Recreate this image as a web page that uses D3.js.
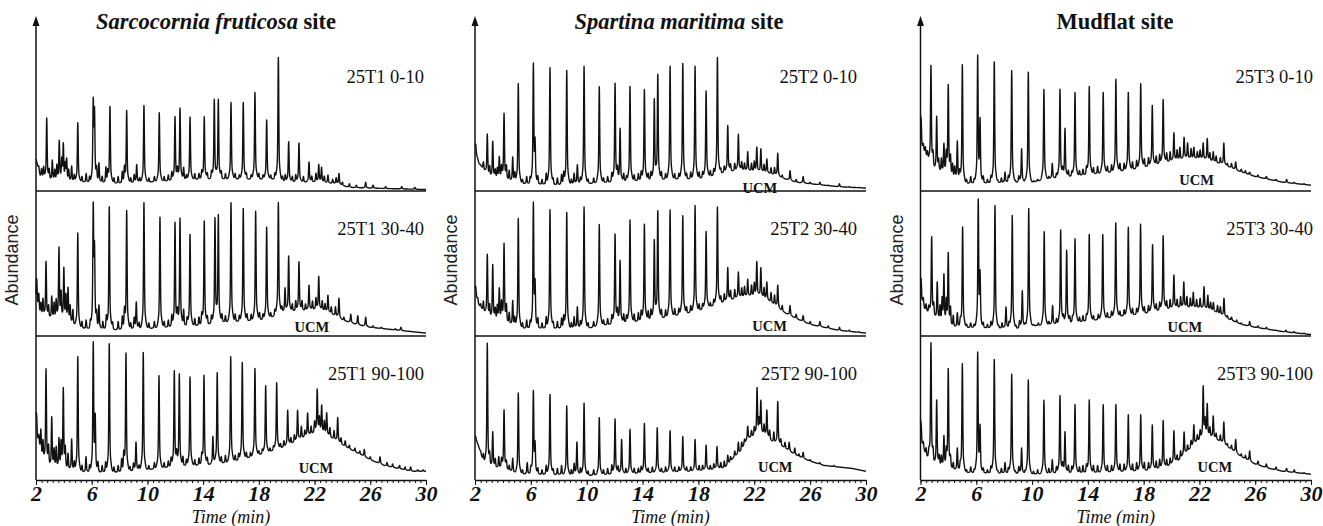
<!DOCTYPE html>
<html>
<head>
<meta charset="utf-8">
<script src="https://cdn.jsdelivr.net/npm/d3@7"></script>
<style>
  body { margin: 0; background: #fff; }
  svg { display: block; }
  .trace { fill: none; stroke: #111; stroke-width: 1.4; stroke-linejoin: round; }
  .rule { stroke: #111; stroke-width: 1.5; fill: none; }
  .serif { font-family: 'Liberation Serif', 'Times New Roman', Times, serif; fill: #111; }
</style>
</head>
<body>
<svg id="chart" width="1323" height="526"></svg>
<script>
// sites, samples and axis
const siteNames = ['Sarcocornia fruticosa', 'Spartina maritima', 'Mudflat']
const siteItalic = [true, true, false]
const sampleCodes = ['25T1', '25T2', '25T3']
const depths = ['0-10', '30-40', '90-100']
const xTicks = [2, 6, 10, 14, 18, 22, 26, 30]

// peaks: [time (min), apex abundance], baselines: [time, abundance] (0-100 = panel height)
const s1aPeaks = [[2.05,20],[2.2,17],[2.4,15],[2.55,16],[2.77,50],[2.95,14],[3.17,21],[3.35,14],[3.5,17],[3.67,34],[3.85,20],[3.96,31],[4.1,17],[4.2,21],[4.35,14],[4.56,17],[4.75,11],[5.0,47],[5.3,10],[5.6,12],[5.85,10],[6.11,59],[6.2,51],[6.35,14],[6.52,19],[6.75,10],[7.02,16],[7.15,12],[7.31,58],[7.6,9],[7.9,10],[8.2,13],[8.35,15],[8.51,55],[8.8,9],[9.05,11],[9.23,18],[9.45,9],[9.75,59],[10.1,9],[10.5,10],[10.85,54],[11.2,10],[11.5,11],[11.75,13],[11.98,51],[12.15,14],[12.34,57],[12.6,16],[12.8,11],[13.06,51],[13.4,12],[13.7,12],[13.9,13],[14.08,51],[14.3,12],[14.6,13],[14.8,63],[15.09,63],[15.3,13],[15.6,12],[16.0,61],[16.3,12],[16.6,11],[16.88,61],[17.1,12],[17.45,11],[17.72,68],[18.0,12],[18.3,11],[18.56,49],[18.85,11],[19.15,12],[19.4,92],[19.7,10],[19.9,11],[20.14,34],[20.4,10],[20.65,11],[20.88,33],[21.2,10],[21.6,20],[21.8,10],[22.1,12],[22.3,18],[22.5,16],[22.7,10],[22.96,11],[23.3,8],[23.55,9],[23.75,12],[24.0,6],[24.5,5],[25.0,4],[25.67,6],[26.2,4],[27.1,3],[28.25,3],[29.2,2.5]]
const s1aBase = [[2,22],[2.3,10],[2.6,8],[3,7],[5,6],[8,5],[10,6],[12,7],[14,8],[17,8],[19,8],[20,6],[22,6],[23.5,5],[24.5,2.5],[26,2],[28,1.5],[30,1]]

const s1bPeaks = [[2.05,39],[2.2,28],[2.35,22],[2.5,25],[2.72,51],[2.9,20],[3.13,27],[3.3,22],[3.45,24],[3.65,60],[3.8,28],[4.0,46],[4.15,26],[4.3,32],[4.45,20],[4.65,18],[5.0,71],[5.3,10],[5.6,11],[5.9,10],[6.11,86],[6.2,55],[6.35,14],[6.52,21],[6.8,10],[7.05,13],[7.26,89],[7.5,9],[7.9,10],[8.2,13],[8.35,16],[8.51,86],[8.8,9],[9.05,12],[9.2,23],[9.4,9],[9.75,92],[10.1,9],[10.5,10],[10.9,82],[11.2,10],[11.5,11],[11.75,14],[11.98,78],[12.15,15],[12.34,81],[12.6,18],[12.85,12],[13.06,70],[13.4,12],[13.7,13],[13.9,14],[14.08,79],[14.3,13],[14.6,14],[14.85,81],[15.09,83],[15.35,15],[15.6,14],[16.0,92],[16.3,15],[16.6,14],[16.88,88],[17.15,15],[17.45,15],[17.77,86],[18.05,16],[18.3,15],[18.56,75],[18.85,16],[19.15,18],[19.4,92],[19.65,20],[19.88,33],[20.14,55],[20.4,22],[20.65,24],[20.88,51],[21.1,24],[21.35,22],[21.6,35],[21.85,24],[22.1,26],[22.3,41],[22.55,24],[22.75,22],[22.96,28],[23.2,20],[23.5,20],[23.75,26],[24.1,13],[24.6,15],[25.1,14],[25.67,13],[26.2,7],[26.8,6],[27.3,4],[27.8,5],[28.2,6],[28.8,3],[29.5,2.5]]
const s1bBase = [[2,23],[2.3,14],[2.7,12],[3.5,11],[4.5,9],[5,5],[8,4],[10,5],[12,6],[14,7],[15,9],[17,10],[18.5,11],[19.7,16],[21,17],[22.3,18],[23,16],[24,11],[25,8],[26,6],[28,4],[30,2]]

const s1cPeaks = [[2.05,44],[2.2,30],[2.35,34],[2.5,26],[2.72,76],[2.9,22],[3.13,43],[3.3,20],[3.45,22],[3.65,28],[3.8,24],[3.96,62],[4.1,20],[4.3,18],[4.56,28],[4.75,12],[5.0,85],[5.3,10],[5.59,16],[5.85,10],[6.11,93],[6.25,40],[6.45,12],[6.75,10],[7.0,12],[7.26,94],[7.6,9],[7.9,10],[8.15,14],[8.3,16],[8.46,87],[8.75,9],[9.0,11],[9.18,26],[9.4,10],[9.7,88],[10.1,10],[10.5,12],[10.83,72],[11.2,12],[11.5,13],[11.7,15],[11.93,75],[12.1,17],[12.29,73],[12.55,16],[12.8,14],[13.06,71],[13.4,14],[13.7,15],[13.9,16],[14.06,72],[14.3,15],[14.7,30],[15.01,74],[15.3,16],[15.6,17],[15.98,85],[16.3,17],[16.55,18],[16.81,81],[17.1,19],[17.4,19],[17.72,77],[18.0,20],[18.25,21],[18.49,65],[18.8,22],[19.05,23],[19.28,67],[19.55,25],[19.8,27],[20.07,48],[20.3,29],[20.55,31],[20.78,48],[21.05,37],[21.3,34],[21.5,46],[21.75,37],[22.0,40],[22.19,62],[22.35,42],[22.51,51],[22.7,40],[22.87,46],[23.1,36],[23.4,34],[23.66,43],[23.9,29],[24.2,27],[24.5,24],[24.9,22],[25.25,20],[25.57,21],[26.0,16],[26.7,16],[27.2,12],[27.6,11],[28.1,10],[28.5,9],[28.9,9],[29.4,7],[29.8,7]]
const s1cBase = [[2,44],[2.1,28],[2.5,12],[3,8],[4,7],[5,5],[8,5],[10,7],[12,9],[14,10],[16,12],[18,17],[20,23],[21,28],[22.2,33],[23,30],[24,24],[25,19],[26,14],[27,10],[28,8],[29,6],[30,6]]

const s2aPeaks = [[2.05,32],[2.2,22],[2.4,18],[2.6,20],[2.88,39],[3.05,16],[3.27,34],[3.45,14],[3.6,15],[3.74,23],[3.9,16],[4.08,53],[4.25,16],[4.45,14],[4.7,23],[4.85,12],[5.1,74],[5.4,8],[5.7,10],[5.95,9],[6.18,86],[6.3,30],[6.5,10],[6.8,8],[7.1,12],[7.37,85],[7.6,8],[7.9,9],[8.2,11],[8.35,12],[8.57,83],[8.9,8],[9.1,12],[9.33,18],[9.55,9],[9.81,86],[10.1,8],[10.5,9],[10.9,72],[11.2,9],[11.5,10],[11.8,12],[12.03,74],[12.2,14],[12.39,43],[12.65,12],[12.85,10],[13.1,72],[13.4,11],[13.7,12],[13.9,13],[14.13,70],[14.4,12],[14.6,13],[14.84,63],[15.09,80],[15.35,13],[15.65,12],[15.97,86],[16.3,12],[16.6,12],[16.88,88],[17.15,12],[17.45,13],[17.76,86],[18.05,13],[18.3,13],[18.55,69],[18.85,14],[19.1,15],[19.36,92],[19.6,15],[19.85,17],[20.1,45],[20.3,18],[20.6,19],[20.86,39],[21.1,20],[21.3,19],[21.53,27],[21.8,19],[22.0,20],[22.18,30],[22.47,29],[22.7,18],[22.9,22],[23.2,16],[23.45,16],[23.68,26],[24.0,11],[24.56,14],[25.0,8],[25.5,10],[26.0,6],[26.7,6],[27.3,4],[28.1,5],[28.8,3],[29.5,2.5]]
const s2aBase = [[2,30],[2.2,20],[2.5,16],[3,9],[4,8],[5,5],[8,4],[10,5],[12,6],[14,7],[16,8],[18,8],[19,10],[20,13],[21,14],[22,13],[23,12],[24,9],[25,6],[26,5],[28,3],[30,2]]

const s2bPeaks = [[2.05,34],[2.2,26],[2.4,22],[2.6,24],[2.88,56],[3.05,20],[3.27,49],[3.45,18],[3.6,20],[3.74,32],[3.9,22],[4.08,63],[4.25,20],[4.45,16],[4.7,24],[4.85,12],[5.1,81],[5.4,9],[5.7,11],[5.95,10],[6.18,90],[6.3,32],[6.5,12],[6.8,9],[7.1,13],[7.37,87],[7.6,9],[7.9,10],[8.2,12],[8.35,13],[8.57,85],[8.9,9],[9.1,13],[9.33,20],[9.55,10],[9.81,89],[10.1,9],[10.5,10],[10.9,77],[11.2,11],[11.5,12],[11.8,14],[12.03,70],[12.2,16],[12.39,52],[12.65,15],[12.85,14],[13.1,80],[13.4,15],[13.7,16],[13.9,17],[14.13,77],[14.4,17],[14.6,18],[14.84,66],[15.09,86],[15.35,18],[15.65,18],[15.97,87],[16.3,19],[16.6,19],[16.88,83],[17.15,20],[17.45,21],[17.76,90],[18.05,22],[18.3,22],[18.55,72],[18.85,23],[19.1,25],[19.36,89],[19.6,27],[19.85,29],[20.1,47],[20.3,31],[20.6,32],[20.86,44],[21.1,33],[21.3,34],[21.53,39],[21.8,35],[22.0,36],[22.18,51],[22.47,47],[22.7,33],[22.9,37],[23.2,30],[23.45,28],[23.68,35],[24.0,21],[24.56,21],[25.0,15],[25.5,14],[26.0,10],[26.7,10],[27.3,7],[28.1,6],[28.8,4],[29.5,3]]
const s2bBase = [[2,32],[2.2,22],[2.5,18],[3,11],[4,10],[5,5],[8,5],[10,5],[11,7],[14,10],[16,13],[18,17],[19.5,22],[20.5,25],[21.5,27],[22.3,27],[23,24],[24,17],[25,12],[26,8],[27,6],[28,4],[30,2]]

const s2cPeaks = [[2.05,30],[2.2,24],[2.4,20],[2.6,18],[2.88,94],[3.05,16],[3.27,33],[3.45,14],[3.7,16],[3.9,14],[4.08,48],[4.25,12],[4.45,10],[4.7,15],[5.1,60],[5.4,7],[5.74,12],[6.0,8],[6.18,60],[6.3,22],[6.5,8],[6.8,7],[7.1,10],[7.37,59],[7.6,7],[7.9,8],[8.2,10],[8.57,51],[8.9,7],[9.1,11],[9.3,26],[9.55,8],[9.81,53],[10.1,6],[10.5,7],[10.9,43],[11.2,7],[11.5,8],[11.8,10],[12.03,42],[12.25,9],[12.5,28],[12.8,8],[13.1,35],[13.4,8],[13.7,8],[13.9,9],[14.13,39],[14.4,8],[14.7,9],[15.05,36],[15.35,8],[15.65,9],[15.97,34],[16.3,9],[16.6,9],[16.88,30],[17.15,9],[17.45,9],[17.76,28],[18.05,10],[18.3,10],[18.55,24],[18.85,10],[19.1,11],[19.33,23],[19.6,12],[19.85,13],[20.1,17],[20.3,16],[20.6,20],[20.86,26],[21.1,26],[21.3,28],[21.53,37],[21.8,34],[22.0,36],[22.2,63],[22.35,40],[22.47,54],[22.7,38],[22.9,48],[23.1,34],[23.4,33],[23.68,54],[23.9,28],[24.2,26],[24.5,26],[24.9,22],[25.2,18],[25.5,19],[26.0,14],[26.7,12],[27.2,10],[27.7,10],[28.0,9],[28.5,8],[29.0,8],[29.5,7]]
const s2cBase = [[2,30],[2.3,22],[2.6,12],[3,8],[4,8],[5,4],[10,3],[15,5],[18,6],[19,7],[19.9,8],[20.5,15],[21,19],[21.5,28],[22.2,31],[22.7,31],[23.3,26],[24,23],[25,17],[26,13],[27,10],[28,9],[29,8],[30,6]]

const s3aPeaks = [[2.05,49],[2.2,32],[2.35,30],[2.5,27],[2.75,86],[2.9,24],[3.16,51],[3.3,20],[3.5,22],[3.68,32],[3.85,24],[3.99,72],[4.15,22],[4.3,18],[4.45,16],[4.64,34],[4.8,12],[5.0,87],[5.3,8],[5.6,10],[5.85,8],[6.1,92],[6.27,47],[6.5,10],[6.8,8],[7.05,10],[7.29,89],[7.55,7],[7.8,9],[8.06,13],[8.3,10],[8.54,83],[8.8,7],[9.05,10],[9.25,29],[9.5,7],[9.73,82],[10.1,7],[10.4,8],[10.85,70],[11.2,10],[11.45,19],[11.75,12],[12.0,70],[12.2,14],[12.36,43],[12.6,14],[12.85,13],[13.08,68],[13.4,14],[13.65,15],[13.9,16],[14.1,72],[14.4,16],[14.7,17],[15.1,68],[15.4,17],[15.7,18],[16.01,77],[16.3,19],[16.6,19],[16.9,68],[17.2,20],[17.5,21],[17.79,74],[18.05,22],[18.35,23],[18.62,59],[18.9,24],[19.15,25],[19.4,63],[19.65,26],[19.9,27],[20.17,40],[20.4,28],[20.6,30],[20.9,37],[21.15,33],[21.4,29],[21.6,30],[21.85,27],[22.05,28],[22.27,33],[22.56,36],[22.75,26],[22.99,27],[23.2,24],[23.5,23],[23.75,33],[24.0,19],[24.3,19],[24.6,20],[25.0,15],[25.3,14],[25.6,13],[26.2,11],[26.8,10],[27.5,8],[28.25,8],[28.8,6],[29.5,5]]
const s3aBase = [[2,49],[2.1,30],[2.3,26],[2.6,20],[3,14],[4,11],[5,5],[10,6],[11,8],[13,10],[15,12],[17,14],[18.5,17],[20,20],[21,22],[22,22],[23,20],[24,17],[25,13],[26,10],[27,8],[28,6],[29,5],[30,4]]

const s3bPeaks = [[2.05,38],[2.2,26],[2.4,22],[2.6,20],[2.8,68],[2.95,20],[3.2,37],[3.4,20],[3.55,24],[3.68,41],[3.85,22],[3.99,56],[4.15,18],[4.35,14],[4.64,16],[4.85,10],[5.02,75],[5.3,8],[5.6,9],[5.85,8],[6.14,92],[6.27,39],[6.5,9],[6.8,8],[7.05,10],[7.34,90],[7.6,7],[7.85,9],[8.13,20],[8.35,9],[8.58,83],[8.85,7],[9.1,10],[9.3,31],[9.5,8],[9.76,88],[10.1,8],[10.45,9],[10.87,72],[11.2,10],[11.47,21],[11.75,12],[12.05,73],[12.25,13],[12.48,59],[12.7,13],[12.9,12],[13.08,67],[13.4,13],[13.65,14],[13.9,14],[14.1,70],[14.4,14],[14.75,15],[15.07,70],[15.4,16],[15.7,17],[16.0,78],[16.3,17],[16.6,18],[16.9,75],[17.2,19],[17.5,19],[17.78,77],[18.05,20],[18.35,21],[18.64,63],[18.9,22],[19.15,23],[19.4,69],[19.65,24],[19.9,25],[20.17,42],[20.4,25],[20.65,27],[20.88,37],[21.1,27],[21.35,26],[21.56,30],[21.8,25],[22.05,26],[22.33,34],[22.6,28],[22.8,23],[23.0,23],[23.3,21],[23.5,20],[23.76,26],[24.0,14],[24.3,13],[24.67,11],[25.0,9],[25.6,10],[26.2,7],[26.8,6],[27.5,4],[28.2,4],[28.8,3],[29.5,2]]
const s3bBase = [[2,38],[2.1,24],[2.3,18],[3,12],[4,6],[9,5],[10,7],[12,8],[14,10],[16,13],[18,15],[19.5,18],[20.5,19],[22,19],[23,17],[24,12],[25,8],[26,6],[28,3],[30,1]]

const s3cPeaks = [[2.05,38],[2.2,26],[2.4,22],[2.6,18],[2.75,94],[2.9,18],[3.16,55],[3.35,16],[3.5,16],[3.68,30],[3.85,18],[3.99,76],[4.15,14],[4.35,12],[4.64,22],[4.85,9],[5.0,80],[5.3,7],[5.6,9],[5.85,7],[6.1,87],[6.27,35],[6.5,8],[6.8,7],[7.05,9],[7.29,83],[7.55,6],[7.8,8],[8.06,12],[8.3,8],[8.54,73],[8.8,6],[9.05,9],[9.25,22],[9.5,6],[9.73,69],[10.1,6],[10.4,7],[10.85,55],[11.2,8],[11.45,14],[11.75,9],[12.0,58],[12.2,10],[12.36,33],[12.6,10],[12.85,9],[13.08,52],[13.4,9],[13.65,10],[13.9,10],[14.1,55],[14.4,10],[14.7,10],[15.1,52],[15.4,10],[15.7,10],[16.01,52],[16.3,11],[16.6,11],[16.9,45],[17.2,11],[17.5,12],[17.79,45],[18.05,12],[18.35,12],[18.62,38],[18.9,13],[19.15,14],[19.4,41],[19.65,14],[19.9,15],[20.17,34],[20.4,17],[20.65,20],[20.9,33],[21.15,24],[21.4,27],[21.6,38],[21.85,31],[22.05,34],[22.27,64],[22.4,40],[22.56,52],[22.75,36],[22.99,44],[23.2,32],[23.5,31],[23.75,40],[24.0,25],[24.3,24],[24.6,28],[25.0,18],[25.3,17],[25.6,20],[26.2,13],[26.8,11],[27.5,9],[28.25,8],[28.8,7],[29.5,5]]
const s3cBase = [[2,40],[2.1,25],[2.4,16],[3,10],[4,8],[5,5],[10,4],[15,5],[18,6],[19.5,8],[20.5,13],[21.2,20],[21.8,26],[22.5,30],[23.2,28],[24,23],[25,16],[26,11],[27,8],[28,6],[29,5],[30,4]]

// UCM annotations: [site, row, time, abundance]
const ucmLabels = [[0,1,21.8,2.8],[0,2,22.1,4.8],[1,0,22.4,-1.5],[1,1,23.1,3.4],[1,2,23.5,5.5],[2,0,21.8,4],[2,1,20.96,3],[2,2,23.1,5.5]]

const traces = [
  [[s1aPeaks, s1aBase], [s1bPeaks, s1bBase], [s1cPeaks, s1cBase]],
  [[s2aPeaks, s2aBase], [s2bPeaks, s2bBase], [s2cPeaks, s2cBase]],
  [[s3aPeaks, s3aBase], [s3bPeaks, s3bBase], [s3cPeaks, s3cBase]]
]

// layout
const panelX = [[36, 426], [475, 866], [920.5, 1311]]
const rowBase = [191, 336, 480]
const rowHeight = 145
const labelY = [83, 235, 380]
const labelRight = [424, 857, 1313]
const titleX = [216, 679, 1115]

const svg = d3.select('#chart')

// narrow peak with a small tailing foot
const peakShape = dt =>
  0.82 * Math.exp(-0.5 * (dt / 0.028) ** 2) + 0.18 * Math.exp(-0.5 * (dt / 0.1) ** 2)

const sampleTimes = d3.range(0, 2801).map(i => 2 + i / 100)

function buildTrace(peaks, baseKnots) {
  const base = d3
    .scaleLinear()
    .domain(baseKnots.map(d => d[0]))
    .range(baseKnots.map(d => d[1]))
    .clamp(true)
  const rel = peaks.map(([t, a]) => [t, Math.max(0, a - base(t))])
  return sampleTimes.map(t => {
    let v = base(t)
    rel.forEach(([tp, h]) => {
      const dt = t - tp
      if (Math.abs(dt) < 0.5) v += h * peakShape(dt)
    })
    return [t, v]
  })
}

siteNames.forEach(function(name, i) {
  const x = d3.scaleLinear().domain([2, 30]).range(panelX[i])
  const g = svg.append('g').attr('class', 'site')
  const x0 = panelX[i][0]

  traces[i].forEach(function([peaks, baseKnots], r) {
    const y = d3
      .scaleLinear()
      .domain([0, 100])
      .range([rowBase[r], rowBase[r] - rowHeight])
    const line = d3
      .line()
      .x(d => x(d[0]))
      .y(d => y(d[1]))

    g.append('path')
      .datum(buildTrace(peaks, baseKnots))
      .attr('class', 'trace')
      .attr('d', line)

    // separator lines between stacked runs
    if (r < 2) {
      g.append('line')
        .attr('class', 'rule')
        .attr('x1', x0)
        .attr('x2', panelX[i][1])
        .attr('y1', rowBase[r])
        .attr('y2', rowBase[r])
    }

    g.append('text')
      .attr('class', 'serif')
      .attr('x', labelRight[i])
      .attr('y', labelY[r])
      .attr('text-anchor', 'end')
      .style('font-size', '18.5px')
      .text(sampleCodes[i] + ' ' + depths[r])
  })

  // UCM labels
  ucmLabels
    .filter(d => d[0] === i)
    .forEach(function(d) {
      const y = d3
        .scaleLinear()
        .domain([0, 100])
        .range([rowBase[d[1]], rowBase[d[1]] - rowHeight])
      g.append('text')
        .attr('class', 'serif')
        .attr('x', x(d[2]))
        .attr('y', y(d[3]))
        .attr('text-anchor', 'middle')
        .style('font-size', '14.5px')
        .style('font-weight', 'bold')
        .text('UCM')
    })

  // y axis with arrow
  g.append('line')
    .attr('class', 'rule')
    .attr('x1', x0)
    .attr('x2', x0)
    .attr('y1', rowBase[2])
    .attr('y2', 24)
  g.append('path')
    .attr('d', `M${x0},16L${x0 - 3.5},26L${x0 + 3.5},26Z`)
    .attr('fill', '#111')

  g.append('text')
    .attr('transform', `translate(${x0 - 18},260) rotate(-90)`)
    .attr('text-anchor', 'middle')
    .style('font-family', "'Liberation Sans', Arial, sans-serif")
    .style('font-size', '18px')
    .attr('fill', '#222')
    .text('Abundance')

  // x axis
  const minor = g
    .append('g')
    .attr('transform', `translate(0,${rowBase[2]})`)
    .call(
      d3
        .axisBottom(x)
        .tickValues(d3.range(0, 71).map(k => 2 + k * 0.4))
        .tickSize(3)
        .tickSizeOuter(0)
        .tickFormat('')
    )
  minor.select('.domain').remove()
  minor.selectAll('line').attr('stroke', '#111')

  const axis = g
    .append('g')
    .attr('transform', `translate(0,${rowBase[2]})`)
    .call(
      d3
        .axisBottom(x)
        .tickValues(xTicks)
        .tickSize(5)
        .tickSizeOuter(0)
        .tickPadding(0)
    )
  axis.select('.domain').attr('stroke', '#111').attr('stroke-width', 1.5)
  axis.selectAll('line').attr('stroke', '#111')
  axis
    .selectAll('text')
    .attr('class', 'serif')
    .style('font-size', '22px')
    .style('font-weight', 'bold')
    .style('font-style', 'italic')

  g.append('text')
    .attr('class', 'serif')
    .attr('x', (panelX[i][0] + panelX[i][1]) / 2)
    .attr('y', 523)
    .attr('text-anchor', 'middle')
    .style('font-size', '18px')
    .style('font-style', 'italic')
    .text('Time (min)')

  // site title
  const title = g
    .append('text')
    .attr('class', 'serif')
    .attr('x', titleX[i])
    .attr('y', 29)
    .attr('text-anchor', 'middle')
    .style('font-size', '22.5px')
    .style('font-weight', 'bold')
  title
    .append('tspan')
    .style('font-style', siteItalic[i] ? 'italic' : 'normal')
    .text(name)
  title.append('tspan').text(' site')
})
</script>
</body>
</html>
